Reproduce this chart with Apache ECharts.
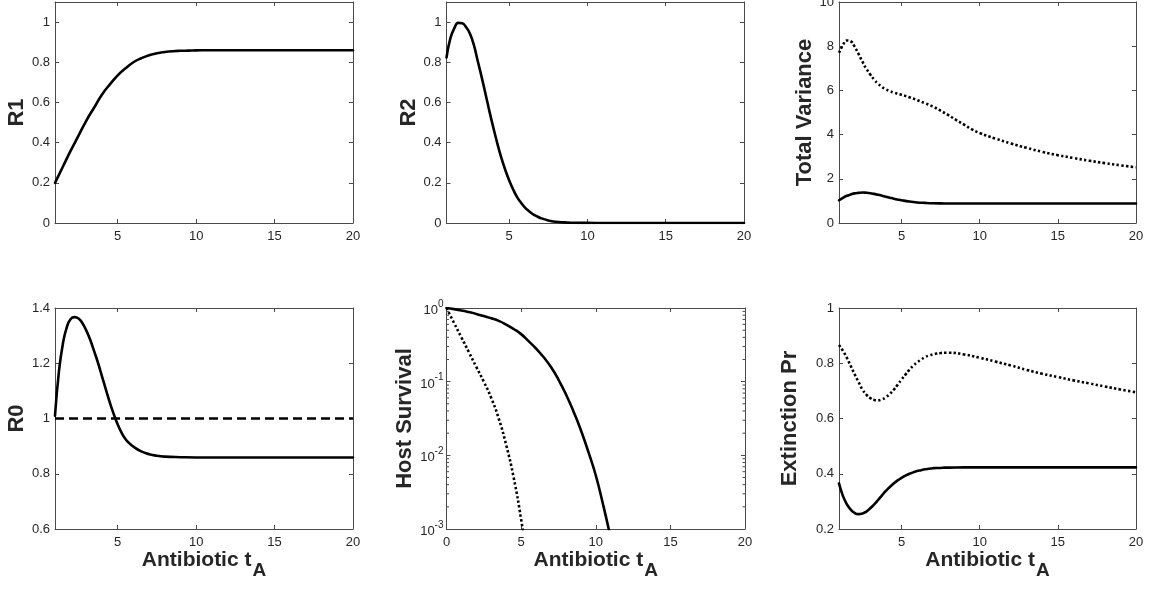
<!DOCTYPE html>
<html>
<head>
<meta charset="utf-8">
<script src="https://cdn.jsdelivr.net/npm/echarts@6/dist/echarts.min.js"></script>
<style>html,body{margin:0;padding:0;background:#fff;}#c{width:1149px;height:591px;}</style>
</head>
<body>
<div id="c"></div>
<script>
// ---------- data ----------
const xTicksTop = [5, 10, 15, 20];
const xTicksHost = [0, 5, 10, 15, 20];
const yTicksR = [0, 0.2, 0.4, 0.6, 0.8, 1];
const yTicksTV = [0, 2, 4, 6, 8, 10];
const yTicksR0 = [0.6, 0.8, 1, 1.2, 1.4];
const yTicksEx = [0.2, 0.4, 0.6, 0.8, 1];
const hostMinor = [0.002,0.003,0.004,0.005,0.006,0.007,0.008,0.009,
                   0.02,0.03,0.04,0.05,0.06,0.07,0.08,0.09,
                   0.2,0.3,0.4,0.5,0.6,0.7,0.8,0.9];

const r1X = [1,1.5,2,2.5,3,3.5,4,4.5,5,5.5,6,6.5,7,7.5,8,8.5,9,9.5,10,11,12,13,14,15,16,17,18,19,20];
const r1Y = [0.20,0.28,0.36,0.435,0.51,0.575,0.64,0.69,0.735,0.77,0.80,0.82,0.835,0.845,0.851,0.855,0.857,0.858,0.859,0.86,0.86,0.86,0.86,0.86,0.86,0.86,0.86,0.86,0.86];

const r2X = [1,1.25,1.5,1.75,2,2.25,2.5,2.75,3,3.25,3.5,3.75,4,4.25,4.5,4.75,5,5.25,5.5,5.75,6,6.25,6.5,6.75,7,7.5,8,8.5,9,10,11,12,14,16,18,20];
const r2Y = [0.824,0.92,0.97,0.996,0.994,0.975,0.942,0.885,0.805,0.725,0.64,0.553,0.472,0.395,0.325,0.265,0.213,0.168,0.13,0.102,0.078,0.06,0.045,0.034,0.025,0.013,0.006,0.003,0.0015,0.0004,0.0001,0,0,0,0,0];

const tvX = [1,1.25,1.5,1.75,2,2.25,2.5,2.75,3,3.25,3.5,3.75,4,4.25,4.5,5,5.5,6,6.5,7,7.5,8,8.5,9,9.5,10,11,12,13,14,15,16,17,18,19,20];
const tvSolid = [1.03,1.14,1.23,1.29,1.34,1.365,1.38,1.37,1.35,1.318,1.28,1.236,1.19,1.145,1.1,1.03,0.97,0.93,0.91,0.895,0.887,0.883,0.881,0.88,0.88,0.88,0.88,0.88,0.88,0.88,0.88,0.88,0.88,0.88,0.88,0.88];
const tvDotted = [7.7,8.05,8.26,8.22,7.98,7.65,7.3,6.98,6.72,6.49,6.3,6.15,6.05,5.97,5.9,5.8,5.69,5.56,5.42,5.27,5.08,4.88,4.66,4.45,4.24,4.07,3.82,3.6,3.4,3.22,3.07,2.94,2.82,2.71,2.61,2.52];

const r0X = [1,1.25,1.5,1.75,2,2.25,2.5,2.75,3,3.25,3.5,3.75,4,4.25,4.5,4.75,5,5.25,5.5,5.75,6,6.5,7,7.5,8,9,10,12,14,16,18,20];
const r0Y = [1.01,1.17,1.27,1.33,1.36,1.367,1.362,1.345,1.318,1.284,1.243,1.2,1.152,1.104,1.057,1.015,0.978,0.948,0.925,0.91,0.898,0.881,0.871,0.865,0.862,0.86,0.859,0.859,0.859,0.859,0.859,0.859];
const thrX = [1, 20];
const thrY = [1, 1];

const hsX = [0,0.5,1,1.5,2,2.5,3,3.5,4,4.5,5,5.5,6,6.5,7,7.5,8,8.5,9,9.5,10,10.5,11];
const hsSolid = [1,0.966,0.927,0.881,0.832,0.776,0.724,0.668,0.596,0.519,0.442,0.355,0.282,0.216,0.158,0.107,0.0676,0.0398,0.0221,0.0112,0.00537,0.00211,0.00076];
const hsDotX = [0,0.5,1,1.5,2,2.5,3,3.5,4,4.5,5,5.3];
const hsDotted = [1,0.63,0.398,0.251,0.158,0.1,0.06,0.0316,0.0138,0.005,0.00135,0.0005];

const exX = [1,1.25,1.5,1.75,2,2.25,2.5,2.75,3,3.25,3.5,3.75,4,4.25,4.5,4.75,5,5.25,5.5,5.75,6,6.25,6.5,6.75,7,7.25,7.5,7.75,8,9,10,11,12,13,14,15,16,17,18,19,20];
const exSolid = [0.365,0.32,0.29,0.27,0.258,0.254,0.256,0.263,0.275,0.289,0.305,0.322,0.338,0.352,0.365,0.376,0.385,0.393,0.4,0.405,0.41,0.413,0.416,0.418,0.42,0.421,0.421,0.422,0.422,0.423,0.423,0.423,0.423,0.423,0.423,0.423,0.423,0.423,0.423,0.423,0.423];
const exDotted = [0.866,0.845,0.82,0.79,0.76,0.732,0.705,0.686,0.674,0.667,0.666,0.669,0.677,0.689,0.704,0.722,0.741,0.759,0.776,0.791,0.803,0.813,0.822,0.828,0.832,0.835,0.837,0.838,0.838,0.832,0.82,0.806,0.792,0.776,0.762,0.75,0.738,0.727,0.716,0.705,0.695];

// ---------- styling ----------
const FONT = 'Liberation Sans, Arial, Helvetica, sans-serif';
const AX = '#4a4a4a';
const TXT = '#262626';
const TICK_FS = 13;
const pairs = (xs, ys) => xs.map((x, i) => [x, ys[i]]);

const grids = [
  {left: 55,    top: 2,   width: 298, height: 221},
  {left: 446.5, top: 2,   width: 297.5, height: 221},
  {left: 839,   top: 2,   width: 297, height: 221},
  {left: 55,    top: 308, width: 298, height: 221},
  {left: 446.5, top: 308, width: 298.5, height: 221},
  {left: 839,   top: 308, width: 297, height: 221}
].map(g => Object.assign({containLabel: false, outerBoundsMode: 'none'}, g));

const xName = '{a|Antibiotic t}{s|A}';
const xNameStyle = {
  color: TXT, fontFamily: FONT, fontWeight: 'bold',
  rich: {
    a: {fontSize: 21, fontWeight: 'bold', fontFamily: FONT, color: TXT, lineHeight: 24, verticalAlign: 'top'},
    s: {fontSize: 19, fontWeight: 'bold', fontFamily: FONT, color: TXT, lineHeight: 22, verticalAlign: 'top', padding: [11, 0, 0, 1]}
  }
};

function xPair(gi, min, max, labelVals, tickVals, withName) {
  const bottom = {
    gridIndex: gi, type: 'value', min: min, max: max, position: 'bottom',
    axisLine: {show: true, onZero: false, lineStyle: {color: AX, width: 1}},
    axisTick: {show: true, inside: true, length: 4, customValues: tickVals, lineStyle: {color: AX}},
    axisLabel: {show: true, customValues: labelVals, fontSize: TICK_FS, color: TXT, fontFamily: FONT, margin: 7},
    splitLine: {show: false}
  };
  if (withName) {
    bottom.name = xName;
    bottom.nameLocation = 'middle';
    bottom.nameGap = 14;
    bottom.nameTextStyle = xNameStyle;
  }
  const top = {
    gridIndex: gi, type: 'value', min: min, max: max, position: 'top',
    axisLine: {show: true, onZero: false, lineStyle: {color: AX, width: 1}},
    axisTick: {show: true, inside: true, length: 4, customValues: tickVals, lineStyle: {color: AX}},
    axisLabel: {show: false},
    splitLine: {show: false}
  };
  return [bottom, top];
}

function yPair(gi, min, max, vals, name, gap) {
  const left = {
    gridIndex: gi, type: 'value', min: min, max: max, position: 'left',
    axisLine: {show: true, onZero: false, lineStyle: {color: AX, width: 1}},
    axisTick: {show: true, inside: true, length: 4, customValues: vals, lineStyle: {color: AX}},
    axisLabel: {show: true, customValues: vals, fontSize: TICK_FS, color: TXT, fontFamily: FONT, margin: 5},
    splitLine: {show: false},
    name: name, nameLocation: 'middle', nameGap: gap,
    nameTextStyle: {fontSize: 22, fontWeight: 'bold', color: TXT, fontFamily: FONT}
  };
  const right = {
    gridIndex: gi, type: 'value', min: min, max: max, position: 'right',
    axisLine: {show: true, onZero: false, lineStyle: {color: AX, width: 1}},
    axisTick: {show: true, inside: true, length: 4, customValues: vals, lineStyle: {color: AX}},
    axisLabel: {show: false},
    splitLine: {show: false}
  };
  return [left, right];
}

function yLogPair(gi, name, gap) {
  const common = {
    gridIndex: gi, type: 'log', logBase: 10, min: 0.001, max: 1,
    axisLine: {show: true, onZero: false, lineStyle: {color: AX, width: 1}},
    axisTick: {show: true, inside: true, length: 4, lineStyle: {color: AX}},
    splitLine: {show: false}, minorTick: {show: false}
  };
  const left = Object.assign({}, common, {
    position: 'left',
    axisLabel: {
      show: true, margin: 3, color: TXT, fontFamily: FONT,
      formatter: v => '{b|10}{s|' + Math.round(Math.log10(v)) + '}',
      rich: {
        b: {fontSize: 13, color: TXT, fontFamily: FONT, verticalAlign: 'top', padding: [5, 0, 0, 0]},
        s: {fontSize: 10, color: TXT, fontFamily: FONT, verticalAlign: 'top'}
      }
    },
    name: name, nameLocation: 'middle', nameGap: gap,
    nameTextStyle: {fontSize: 22, fontWeight: 'bold', color: TXT, fontFamily: FONT}
  });
  const right = Object.assign({}, common, {position: 'right', axisLabel: {show: false}});
  return [left, right];
}

const xAxes = [].concat(
  xPair(0, 1, 20, xTicksTop, xTicksTop, false),
  xPair(1, 1, 20, xTicksTop, xTicksTop, false),
  xPair(2, 1, 20, xTicksTop, xTicksTop, false),
  xPair(3, 1, 20, xTicksTop, xTicksTop, true),
  xPair(4, 0, 20, xTicksHost, xTicksHost, true),
  xPair(5, 1, 20, xTicksTop, xTicksTop, true)
);
const yAxes = [].concat(
  yPair(0, 0, 1.1, yTicksR, 'R1', 26),
  yPair(1, 0, 1.1, yTicksR, 'R2', 26),
  yPair(2, 0, 10, yTicksTV, 'Total Variance', 23),
  yPair(3, 0.6, 1.4, yTicksR0, 'R0', 26),
  yLogPair(4, 'Host Survival', 30),
  yPair(5, 0.2, 1, yTicksEx, 'Extinction Pr', 38)
);

const SOLID = {color: '#000', width: 2.6, type: 'solid', cap: 'round', join: 'round'};
const DOTTED = {color: '#000', width: 2.6, type: [2.4, 2.3], cap: 'butt'};
const DASHED = {color: '#000', width: 2.4, type: [9, 5], cap: 'butt'};

function line(gi, data, style) {
  return {
    type: 'line', xAxisIndex: 2 * gi, yAxisIndex: 2 * gi, data: data,
    showSymbol: false, symbol: 'none', smooth: 0.5, clip: true,
    lineStyle: style, silent: true, animation: false, z: 3
  };
}

const series = [
  line(0, pairs(r1X, r1Y), SOLID),
  line(1, pairs(r2X, r2Y), SOLID),
  line(2, pairs(tvX, tvDotted), DOTTED),
  line(2, pairs(tvX, tvSolid), SOLID),
  line(3, pairs(r0X, r0Y), SOLID),
  Object.assign(line(3, pairs(thrX, thrY), DASHED), {smooth: false}),
  line(4, pairs(hsX, hsSolid), SOLID),
  line(4, pairs(hsDotX, hsDotted), DOTTED),
  line(5, pairs(exX, exDotted), DOTTED),
  line(5, pairs(exX, exSolid), SOLID),
  {
    type: 'custom', xAxisIndex: 8, yAxisIndex: 8, silent: true, animation: false, clip: false,
    data: hostMinor.map(v => [0, v]),
    renderItem: function (params, api) {
      const v = api.value(1);
      const l = api.coord([0, v]);
      const r = api.coord([20, v]);
      const st = {stroke: AX, lineWidth: 1};
      return {type: 'group', children: [
        {type: 'line', shape: {x1: l[0], y1: l[1], x2: l[0] + 2.5, y2: l[1]}, style: st},
        {type: 'line', shape: {x1: r[0], y1: r[1], x2: r[0] - 2.5, y2: r[1]}, style: st}
      ]};
    }
  }
];

const chart = echarts.init(document.getElementById('c'), null, {renderer: 'canvas'});
chart.setOption({
  animation: false,
  backgroundColor: '#fff',
  grid: grids,
  xAxis: xAxes,
  yAxis: yAxes,
  series: series
});
</script>
</body>
</html>
